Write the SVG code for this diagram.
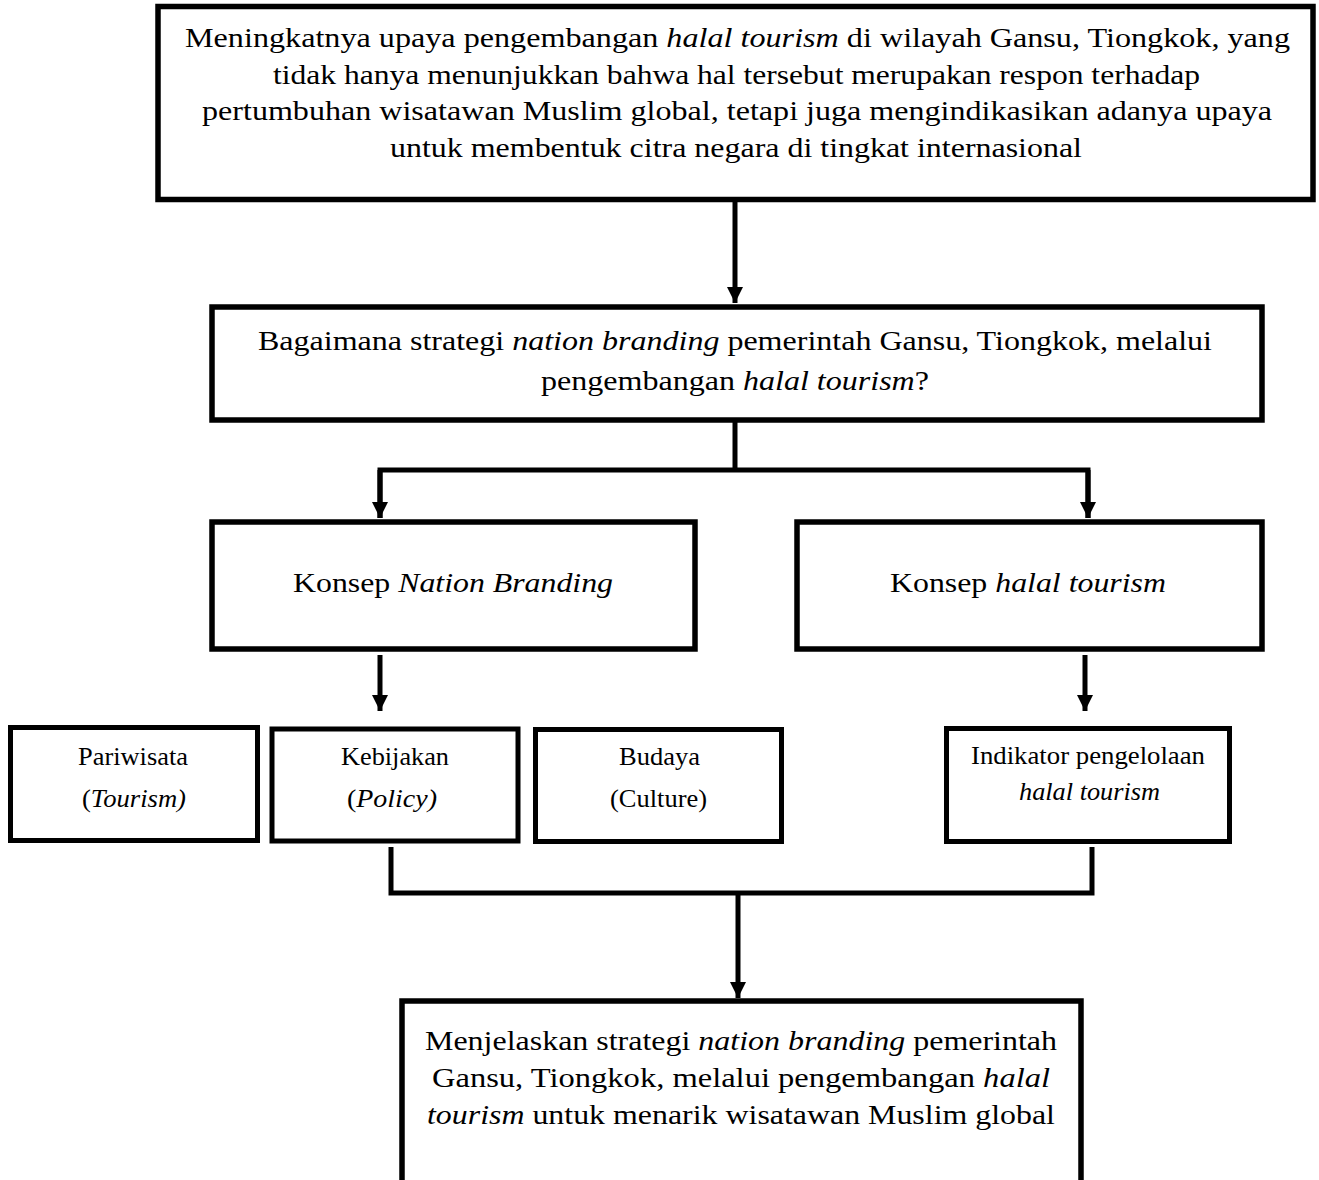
<svg xmlns="http://www.w3.org/2000/svg" width="1319" height="1180" viewBox="0 0 1319 1180">
<style>
.box{fill:#fff;stroke:#000;stroke-width:5.5}
.sbox{fill:#fff;stroke:#000;stroke-width:5}
.ln{fill:none;stroke:#000;stroke-width:5}
text{font-family:"Liberation Serif","Times New Roman",serif;fill:#000}
.t26{font-size:28px}
.t20{font-size:25px}
.i{font-style:italic}
</style>
<defs>
<marker id="ah" viewBox="0 0 16 16" refX="16" refY="8" markerWidth="16" markerHeight="16" markerUnits="userSpaceOnUse" orient="auto">
<path d="M0,0 L16,8 L0,16 Z" fill="#000"/>
</marker>
</defs>
<g id="connectors">
<line class="ln" x1="735" y1="202" x2="735" y2="303" marker-end="url(#ah)"/>
<polyline class="ln" points="735,422 735,470"/>
<polyline class="ln" points="380,518 380,470 1088,470 1088,518" />
<line class="ln" x1="380" y1="470" x2="380" y2="518" marker-end="url(#ah)"/>
<line class="ln" x1="1088" y1="470" x2="1088" y2="518" marker-end="url(#ah)"/>
<line class="ln" x1="380" y1="655" x2="380" y2="711" marker-end="url(#ah)"/>
<line class="ln" x1="1085" y1="655" x2="1085" y2="711" marker-end="url(#ah)"/>
<polyline class="ln" points="391,847 391,893 1092,893 1092,847"/>
<line class="ln" x1="738" y1="893" x2="738" y2="998" marker-end="url(#ah)"/>
</g>
<g id="n1">
<rect class="box" x="158" y="6.5" width="1155" height="193"/>
<text class="t26" x="185" y="47" textLength="1105" lengthAdjust="spacingAndGlyphs">Meningkatnya upaya pengembangan <tspan class="i">halal tourism</tspan> di wilayah Gansu, Tiongkok, yang</text>
<text class="t26" x="273" y="84" textLength="927" lengthAdjust="spacingAndGlyphs">tidak hanya menunjukkan bahwa hal tersebut merupakan respon terhadap</text>
<text class="t26" x="202" y="120" textLength="1070" lengthAdjust="spacingAndGlyphs">pertumbuhan wisatawan Muslim global, tetapi juga mengindikasikan adanya upaya</text>
<text class="t26" x="390" y="157" textLength="692" lengthAdjust="spacingAndGlyphs">untuk membentuk citra negara di tingkat internasional</text>
</g>
<g id="n2">
<rect class="box" x="212" y="307" width="1050" height="113"/>
<text class="t26" x="258" y="350" textLength="954" lengthAdjust="spacingAndGlyphs">Bagaimana strategi <tspan class="i">nation branding</tspan> pemerintah Gansu, Tiongkok, melalui</text>
<text class="t26" x="541" y="390" textLength="388" lengthAdjust="spacingAndGlyphs">pengembangan <tspan class="i">halal tourism</tspan>?</text>
</g>
<g id="n3">
<rect class="box" x="212" y="522" width="483" height="127"/>
<text class="t26" x="293" y="592" textLength="320" lengthAdjust="spacingAndGlyphs">Konsep <tspan class="i">Nation Branding</tspan></text>
</g>
<g id="n4">
<rect class="box" x="797" y="522" width="465" height="127"/>
<text class="t26" x="890" y="592" textLength="276" lengthAdjust="spacingAndGlyphs">Konsep <tspan class="i">halal tourism</tspan></text>
</g>
<g id="n5">
<rect class="sbox" x="10.5" y="727.5" width="247" height="113"/>
<text class="t20" x="78" y="765" textLength="110" lengthAdjust="spacingAndGlyphs">Pariwisata</text>
<text class="t20" x="82" y="807" textLength="104" lengthAdjust="spacingAndGlyphs">(<tspan class="i">Tourism)</tspan></text>
</g>
<g id="n6">
<rect class="sbox" x="272" y="729" width="246" height="112"/>
<text class="t20" x="341" y="765" textLength="108" lengthAdjust="spacingAndGlyphs">Kebijakan</text>
<text class="t20" x="347" y="807" textLength="90" lengthAdjust="spacingAndGlyphs">(<tspan class="i">Policy)</tspan></text>
</g>
<g id="n7">
<rect class="sbox" x="535.5" y="729.5" width="246" height="112"/>
<text class="t20" x="619" y="765" textLength="81" lengthAdjust="spacingAndGlyphs">Budaya</text>
<text class="t20" x="610" y="807" textLength="97" lengthAdjust="spacingAndGlyphs">(Culture)</text>
</g>
<g id="n8">
<rect class="sbox" x="946.5" y="728.5" width="283" height="113"/>
<text class="t20" x="971" y="764" textLength="234" lengthAdjust="spacingAndGlyphs">Indikator pengelolaan</text>
<text class="t20 i" x="1019" y="800" textLength="141" lengthAdjust="spacingAndGlyphs">halal tourism</text>
</g>
<g id="n9">
<path class="box" d="M402,1182 L402,1001 L1081,1001 L1081,1182"/>
<text class="t26" x="425" y="1050" textLength="632" lengthAdjust="spacingAndGlyphs">Menjelaskan strategi <tspan class="i">nation branding</tspan> pemerintah</text>
<text class="t26" x="432" y="1087" textLength="618" lengthAdjust="spacingAndGlyphs">Gansu, Tiongkok, melalui pengembangan <tspan class="i">halal</tspan></text>
<text class="t26" x="427" y="1124" textLength="628" lengthAdjust="spacingAndGlyphs"><tspan class="i">tourism</tspan> untuk menarik wisatawan Muslim global</text>
</g>
</svg>
